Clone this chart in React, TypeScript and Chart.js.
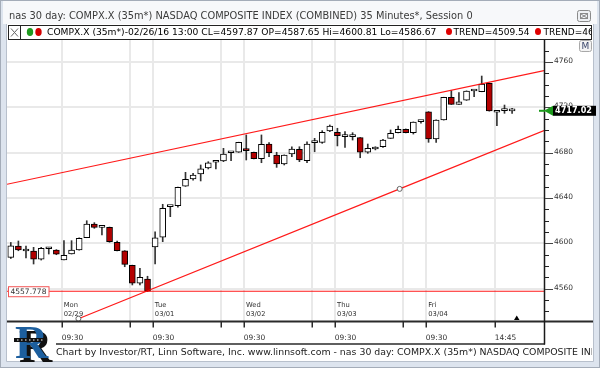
import React, { useEffect, useRef } from 'react';
import { Chart, registerables } from 'chart.js';

Chart.register(...registerables);

// ---- data (35-minute bars, index 0 = 02/26/16 13:00) ----
const barOpen = [4587.65, 4597.7, 4593.3, 4593.3, 4586.0, 4595.3, 4594.2, 4585.3, 4590.6, 4594.2, 4605.0, 4617.1, 4614.2, 4614.2, 4601.0, 4593.5, 4580.6, 4564.8, 4568.6, 4596.8, 4605.4, 4632.4, 4633.3, 4650.4, 4656.8, 4661.2, 4666.5, 4671.6, 4672.7, 4680.0, 4680.4, 4683.6, 4680.4, 4674.7, 4687.7, 4678.0, 4670.1, 4678.9, 4683.0, 4673.0, 4688.9, 4689.2, 4699.2, 4698.0, 4694.2, 4694.2, 4693.3, 4680.4, 4683.3, 4685.3, 4692.7, 4697.7, 4700.7, 4697.7, 4707.4, 4716.2, 4692.1, 4708.9, 4728.9, 4722.7, 4726.3, 4734.5, 4733.9, 4741.3, 4715.7, 4717.1, 4716.9];
const barHigh = [4600.81, 4602.1, 4597.7, 4596.5, 4596.5, 4596.5, 4594.5, 4602.4, 4602.4, 4605.0, 4620.0, 4618.3, 4614.4, 4614.4, 4602.1, 4593.6, 4580.8, 4578.0, 4571.0, 4610.3, 4634.5, 4632.6, 4649.6, 4662.7, 4661.9, 4669.2, 4672.1, 4671.7, 4683.9, 4680.2, 4689.3, 4695.7, 4680.5, 4695.7, 4688.9, 4680.4, 4678.1, 4685.3, 4685.3, 4689.7, 4692.7, 4699.5, 4704.5, 4701.6, 4698.6, 4697.7, 4693.4, 4687.7, 4685.3, 4691.9, 4700.1, 4703.6, 4701.0, 4707.2, 4707.5, 4716.3, 4709.0, 4729.0, 4734.8, 4733.0, 4734.6, 4734.6, 4747.7, 4741.4, 4715.8, 4722.1, 4719.2];
const barLow = [4586.67, 4593.5, 4587.1, 4581.8, 4585.3, 4590.6, 4590.0, 4585.3, 4590.6, 4594.0, 4605.0, 4613.3, 4607.4, 4601.0, 4593.3, 4579.4, 4563.3, 4563.3, 4557.5, 4581.8, 4601.5, 4623.6, 4632.0, 4650.3, 4655.9, 4655.1, 4665.7, 4665.7, 4672.1, 4673.0, 4680.3, 4673.6, 4674.6, 4671.2, 4676.5, 4667.1, 4669.2, 4676.5, 4672.1, 4671.2, 4680.9, 4688.3, 4698.6, 4686.0, 4684.8, 4691.2, 4675.6, 4679.5, 4682.5, 4684.7, 4692.7, 4697.4, 4697.5, 4696.5, 4706.0, 4689.2, 4689.2, 4708.8, 4722.6, 4722.6, 4726.2, 4729.5, 4733.8, 4716.7, 4703.9, 4714.8, 4714.8];
const barClose = [4597.87, 4594.2, 4593.3, 4586.0, 4595.7, 4595.3, 4590.4, 4589.5, 4594.2, 4604.5, 4617.1, 4614.2, 4614.2, 4601.5, 4593.5, 4581.5, 4564.8, 4570.1, 4557.8, 4605.0, 4631.0, 4632.4, 4649.5, 4656.6, 4660.3, 4665.9, 4671.2, 4671.6, 4678.9, 4680.0, 4689.2, 4681.8, 4674.7, 4687.4, 4680.0, 4670.1, 4678.0, 4683.3, 4673.6, 4687.7, 4688.9, 4698.0, 4703.6, 4695.0, 4694.2, 4694.2, 4680.4, 4683.9, 4683.3, 4691.2, 4697.1, 4700.7, 4697.7, 4707.1, 4707.4, 4692.1, 4708.9, 4728.9, 4722.7, 4725.0, 4734.5, 4734.5, 4740.7, 4716.8, 4715.7, 4717.1, 4717.02];

// trend lines (bar index, price)
const upperTrend = [{ x: -0.5, y: 4652.2 }, { x: 70.2, y: 4752.4 }];
const lowerTrend = [{ x: 8.9, y: 4533.5 }, { x: 51.2, y: 4648.1 }, { x: 70.2, y: 4699.6 }];
const supportLevel = 4557.778;
const lastPrice = 4717.02;

// time axis
const dayStartIdx = [6, 18, 30, 42, 54];
const dayNames = ['Mon', 'Tue', 'Wed', 'Thu', 'Fri'];
const dayDates = ['02/29', '03/01', '03/02', '03/03', '03/04'];
const midIdx = [15, 27, 39, 51, 63];
const midLabels = ['', '', '', '', '14:45'];
const openLabel = '09:30';
const yMajor = [4560, 4600, 4640, 4680, 4720, 4760];
const yMinorStep = 10;

const TITLE = 'nas 30 day: COMPX.X (35m*) NASDAQ COMPOSITE INDEX (COMBINED) 35 Minutes*, Session 0';
const LEGEND = 'COMPX.X (35m*)-02/26/16 13:00 CL=4597.87 OP=4587.65 Hi=4600.81 Lo=4586.67';
const TREND1 = 'TREND=4509.54';
const TREND2 = 'TREND=4652.90';
const FOOTER = 'Chart by Investor/RT, Linn Software, Inc. www.linnsoft.com - nas 30 day: COMPX.X (35m*) NASDAQ COMPOSITE INDEX (COMBINED) 35 Minutes*, Session 0';

const X_MIN = -0.5;
const X_MAX = 70.2;
const Y_MIN = 4531.5;
const Y_MAX = 4779.5;
const TICK_SHIFT = 0.7;

const FONT = '"DejaVu Sans", sans-serif';

function fit(ctx: CanvasRenderingContext2D, text: string, width: number, weight = '') {
  ctx.font = `${weight} 50px ${FONT}`;
  const w = ctx.measureText(text).width;
  const s = (50 * width) / w;
  ctx.font = `${weight} ${s.toFixed(2)}px ${FONT}`;
  return s;
}

function rrect(ctx: CanvasRenderingContext2D, x: number, y: number, w: number, h: number, r: number) {
  ctx.beginPath();
  ctx.moveTo(x + r, y);
  ctx.lineTo(x + w - r, y);
  ctx.quadraticCurveTo(x + w, y, x + w, y + r);
  ctx.lineTo(x + w, y + h - r);
  ctx.quadraticCurveTo(x + w, y + h, x + w - r, y + h);
  ctx.lineTo(x + r, y + h);
  ctx.quadraticCurveTo(x, y + h, x, y + h - r);
  ctx.lineTo(x, y + r);
  ctx.quadraticCurveTo(x, y, x + r, y);
  ctx.closePath();
}

const decorPlugin = {
  id: 'decor',
  beforeDraw(chart: any) {
    const ctx: CanvasRenderingContext2D = chart.ctx;
    ctx.save();
    ctx.fillStyle = '#ffffff';
    ctx.fillRect(0, 0, 600, 368);
    // title bar
    ctx.fillStyle = '#f7f8fa';
    ctx.fillRect(0, 0, 600, 24);
    // frame
    ctx.fillStyle = '#dde4ee';
    ctx.fillRect(0, 0, 7, 368);
    ctx.fillRect(593, 0, 7, 368);
    ctx.fillRect(0, 361, 600, 7);
    ctx.fillStyle = '#f7f8fa';
    ctx.fillRect(3, 0, 594, 24);
    ctx.strokeStyle = '#a4acb8';
    ctx.lineWidth = 1;
    ctx.strokeRect(0.5, 0.5, 599, 367);
    ctx.strokeStyle = '#b8c0cc';
    ctx.beginPath();
    ctx.moveTo(6.5, 24); ctx.lineTo(6.5, 361.5); ctx.lineTo(593.5, 361.5); ctx.lineTo(593.5, 24);
    ctx.stroke();
    ctx.fillStyle = '#ffffff';
    ctx.fillRect(7, 24, 586, 337);
    ctx.restore();
  },
  afterDraw(chart: any) {
    const ctx: CanvasRenderingContext2D = chart.ctx;
    const xs = chart.scales.x;
    const ys = chart.scales.y;
    const { left, right, top, bottom } = chart.chartArea;
    ctx.save();

    // title
    ctx.fillStyle = '#3a3a3a';
    ctx.textBaseline = 'middle';
    ctx.textAlign = 'left';
    fit(ctx, TITLE, 464);
    ctx.fillText(TITLE, 9, 16);
    // close button
    ctx.strokeStyle = '#8a8a8a';
    ctx.lineWidth = 1;
    rrect(ctx, 577.5, 10.5, 13, 11, 2);
    ctx.fillStyle = '#eef0f3';
    ctx.fill();
    ctx.stroke();
    ctx.strokeRect(580.5, 13.5, 7, 5);
    ctx.beginPath();
    ctx.moveTo(581, 14); ctx.lineTo(587, 18); ctx.moveTo(587, 14); ctx.lineTo(581, 18);
    ctx.stroke();

    // legend row
    ctx.fillStyle = '#ffffff';
    ctx.fillRect(8, 25, 584, 15);
    ctx.strokeStyle = '#222';
    ctx.lineWidth = 1;
    ctx.strokeRect(8.5, 25.5, 583, 14);
    ctx.beginPath();
    ctx.moveTo(20.5, 25.5); ctx.lineTo(20.5, 39.5);
    ctx.stroke();
    ctx.strokeStyle = '#666';
    ctx.beginPath();
    ctx.moveTo(11, 28.5); ctx.lineTo(18, 36.5); ctx.moveTo(18, 28.5); ctx.lineTo(11, 36.5);
    ctx.stroke();
    ctx.fillStyle = '#1f9a1f';
    ctx.beginPath(); ctx.ellipse(30, 32, 3.2, 4, 0, 0, Math.PI * 2); ctx.fill();
    ctx.fillStyle = '#d40000';
    ctx.beginPath(); ctx.ellipse(38.5, 32, 3.2, 4, 0, 0, Math.PI * 2); ctx.fill();
    ctx.fillStyle = '#000';
    ctx.textBaseline = 'middle';
    fit(ctx, LEGEND, 390);
    ctx.fillText(LEGEND, 47, 32.5);
    ctx.fillStyle = '#e00000';
    ctx.beginPath(); ctx.ellipse(449, 31.5, 3, 3.6, 0, 0, Math.PI * 2); ctx.fill();
    ctx.beginPath(); ctx.ellipse(538, 31.5, 3, 3.6, 0, 0, Math.PI * 2); ctx.fill();
    ctx.fillStyle = '#000';
    fit(ctx, TREND1, 76);
    ctx.fillText(TREND1, 453.5, 32.5);
    ctx.save();
    ctx.beginPath();
    ctx.rect(540, 26, 51, 13);
    ctx.clip();
    ctx.fillText(TREND2, 543.5, 32.5);
    ctx.restore();

    // M button
    rrect(ctx, 579.5, 40.5, 12, 11, 2);
    ctx.fillStyle = '#f3f3f3';
    ctx.fill();
    ctx.strokeStyle = '#a8a8a8';
    ctx.stroke();
    ctx.fillStyle = '#39456a';
    ctx.font = `9px ${FONT}`;
    ctx.textAlign = 'center';
    ctx.fillText('M', 585.5, 46.5);
    ctx.textAlign = 'left';

    // day labels inside plot
    ctx.fillStyle = '#333';
    ctx.textBaseline = 'middle';
    const dsz = fit(ctx, dayDates[0], 19.5);
    dayStartIdx.forEach((k, i) => {
      const px = xs.getPixelForValue(k + TICK_SHIFT) + 2;
      ctx.fillText(dayNames[i], px, 305);
      ctx.fillText(dayDates[i], px, 314.5);
    });

    // support label
    const sy = ys.getPixelForValue(supportLevel);
    ctx.fillStyle = '#fff';
    ctx.fillRect(8, sy - 4.5, 41, 10);
    ctx.strokeStyle = '#f25555';
    ctx.strokeRect(8.5, sy - 4.5, 40.5, 10);
    ctx.fillStyle = '#333';
    fit(ctx, '4557.778', 36);
    ctx.fillText('4557.778', 10.5, sy + 0.5);

    // bottom axis
    ctx.strokeStyle = '#2a2a2a';
    ctx.lineWidth = 2;
    ctx.beginPath();
    ctx.moveTo(left, bottom + 0.5); ctx.lineTo(593, bottom + 0.5);
    ctx.stroke();
    ctx.lineWidth = 1.5;
    ctx.beginPath();
    ctx.moveTo(56, 344); ctx.lineTo(right + 1, 344);
    ctx.stroke();
    const allTicks = [
      ...dayStartIdx.map((k) => ({ k, label: openLabel })),
      ...midIdx.map((k, i) => ({ k, label: midLabels[i] })),
    ];
    ctx.lineWidth = 1.5;
    ctx.fillStyle = '#333';
    fit(ctx, '09:30', 21.5);
    allTicks.forEach((t) => {
      const px = Math.round(xs.getPixelForValue(t.k + TICK_SHIFT)) + 0.25;
      ctx.beginPath();
      ctx.moveTo(px, bottom + 1); ctx.lineTo(px, bottom + 6.5);
      ctx.stroke();
      if (t.label) ctx.fillText(t.label, px - 0.5, 338.5);
    });
    // last-bar marker
    ctx.fillStyle = '#000';
    ctx.beginPath();
    ctx.moveTo(514, 320); ctx.lineTo(519.5, 320); ctx.lineTo(516.75, 315.5);
    ctx.closePath();
    ctx.fill();

    // right axis
    ctx.strokeStyle = '#1a1a1a';
    ctx.lineWidth = 1.5;
    ctx.beginPath();
    ctx.moveTo(right + 0.5, top); ctx.lineTo(right + 0.5, 344.5);
    ctx.stroke();
    ctx.lineWidth = 1;
    for (let v = Math.ceil(Y_MIN / yMinorStep) * yMinorStep; v <= Y_MAX; v += yMinorStep) {
      const py = Math.round(ys.getPixelForValue(v)) + 0.5;
      const major = yMajor.includes(v);
      ctx.strokeStyle = major ? '#444' : '#222';
      ctx.beginPath();
      ctx.moveTo(right + 1, py); ctx.lineTo(right + (major ? 9 : 5), py);
      ctx.stroke();
    }
    ctx.fillStyle = '#333';
    ctx.textBaseline = 'alphabetic';
    fit(ctx, '4760', 19);
    yMajor.forEach((v) => {
      const py = Math.round(ys.getPixelForValue(v)) + 0.5;
      ctx.fillText(String(v), right + 10, py);
    });

    // last price tag
    const ly = ys.getPixelForValue(lastPrice);
    ctx.fillStyle = '#1c9a1c';
    ctx.fillRect(right - 5, ly - 1, 6, 2);
    ctx.beginPath();
    ctx.moveTo(right, ly); ctx.lineTo(right + 9, ly - 5); ctx.lineTo(right + 9, ly + 5);
    ctx.closePath();
    ctx.fill();
    ctx.fillStyle = '#000';
    ctx.fillRect(right + 9, ly - 5, 43, 10);
    ctx.fillStyle = '#fff';
    ctx.textBaseline = 'middle';
    fit(ctx, lastPrice.toFixed(2), 37, 'bold');
    ctx.fillText(lastPrice.toFixed(2), right + 11, ly + 0.5);

    // footer
    ctx.fillStyle = '#222';
    ctx.textBaseline = 'middle';
    fit(ctx, FOOTER.slice(0, FOOTER.indexOf('COMPOSITE IN') + 12), 535.5);
    ctx.save();
    ctx.beginPath();
    ctx.rect(50, 345, 542, 15);
    ctx.clip();
    ctx.fillText(FOOTER, 56, 353);
    ctx.restore();

    // logo
    ctx.font = `bold 46px "Liberation Serif", serif`;
    ctx.textBaseline = 'alphabetic';
    ctx.fillStyle = '#111';
    ctx.fillText('R', 19, 362);
    ctx.fillStyle = '#1d5f9e';
    ctx.fillText('R', 15, 358);
    ctx.fillStyle = '#111';
    ctx.fillRect(14, 338, 30, 4);
    ctx.fillStyle = '#fff';
    for (let i = 0; i < 7; i++) ctx.fillRect(17 + i * 4, 339.5, 1.5, 1);

    ctx.restore();
  },
};

export default function App() {
  const ref = useRef<HTMLCanvasElement | null>(null);
  useEffect(() => {
    const canvas = ref.current;
    if (!canvas) return;
    const idx = barOpen.map((_, k) => k);
    const chart = new Chart(canvas, {
      type: 'bar',
      data: {
        datasets: [
          {
            type: 'line',
            data: upperTrend,
            borderColor: 'rgba(255,0,0,0.9)',
            borderWidth: 1.2,
            pointRadius: 0,
            order: 0,
          } as any,
          {
            type: 'line',
            data: lowerTrend,
            borderColor: 'rgba(255,0,0,0.9)',
            borderWidth: 1.2,
            pointRadius: [2.5, 2.5, 0],
            pointBackgroundColor: '#ffffff',
            pointBorderColor: '#666',
            pointBorderWidth: 1,
            order: 0,
          } as any,
          {
            type: 'line',
            data: [{ x: X_MIN, y: supportLevel }, { x: X_MAX, y: supportLevel }],
            borderColor: 'rgba(255,0,0,0.9)',
            borderWidth: 1.2,
            pointRadius: 0,
            order: 0,
          } as any,
          {
            type: 'bar',
            data: idx.map((k) => ({ x: k, y: [barLow[k], barHigh[k]] })),
            backgroundColor: '#333333',
            barThickness: 1,
            grouped: false,
            order: 3,
          } as any,
          {
            type: 'bar',
            data: idx.map((k) => ({ x: k, y: [barOpen[k], barClose[k]] })),
            backgroundColor: idx.map((k) => (barClose[k] < barOpen[k] ? '#b30000' : '#ffffff')),
            borderColor: '#000000',
            borderWidth: 1,
            borderSkipped: false,
            barThickness: 6,
            minBarLength: 2,
            grouped: false,
            order: 2,
          } as any,
        ],
      },
      options: {
        responsive: false,
        animation: false,
        devicePixelRatio: 1,
        events: [],
        layout: { padding: { left: 7, right: 56, top: 40, bottom: 47 } },
        plugins: { legend: { display: false }, tooltip: { enabled: false } },
        scales: {
          x: {
            type: 'linear',
            min: X_MIN,
            max: X_MAX,
            offset: false,
            grid: { color: '#e9e9e9', lineWidth: 2, drawTicks: false, offset: false },
            border: { display: false },
            ticks: { display: false },
            afterBuildTicks: (s: any) => {
              s.ticks = [...dayStartIdx, ...midIdx].sort((a, b) => a - b).map((k) => ({ value: k + TICK_SHIFT }));
            },
          },
          y: {
            type: 'linear',
            position: 'right',
            min: Y_MIN,
            max: Y_MAX,
            beginAtZero: false,
            grid: { color: '#e9e9e9', lineWidth: 2, drawTicks: false },
            border: { display: false },
            ticks: { display: false },
            afterBuildTicks: (s: any) => {
              s.ticks = yMajor.map((v) => ({ value: v }));
            },
          },
        },
      } as any,
      plugins: [decorPlugin],
    });
    return () => chart.destroy();
  }, []);
  return (
    <div style={{ position: 'fixed', left: 0, top: 0, width: 600, height: 368 }}>
      <canvas ref={ref} width={600} height={368} style={{ width: 600, height: 368, display: 'block' }} />
    </div>
  );
}
